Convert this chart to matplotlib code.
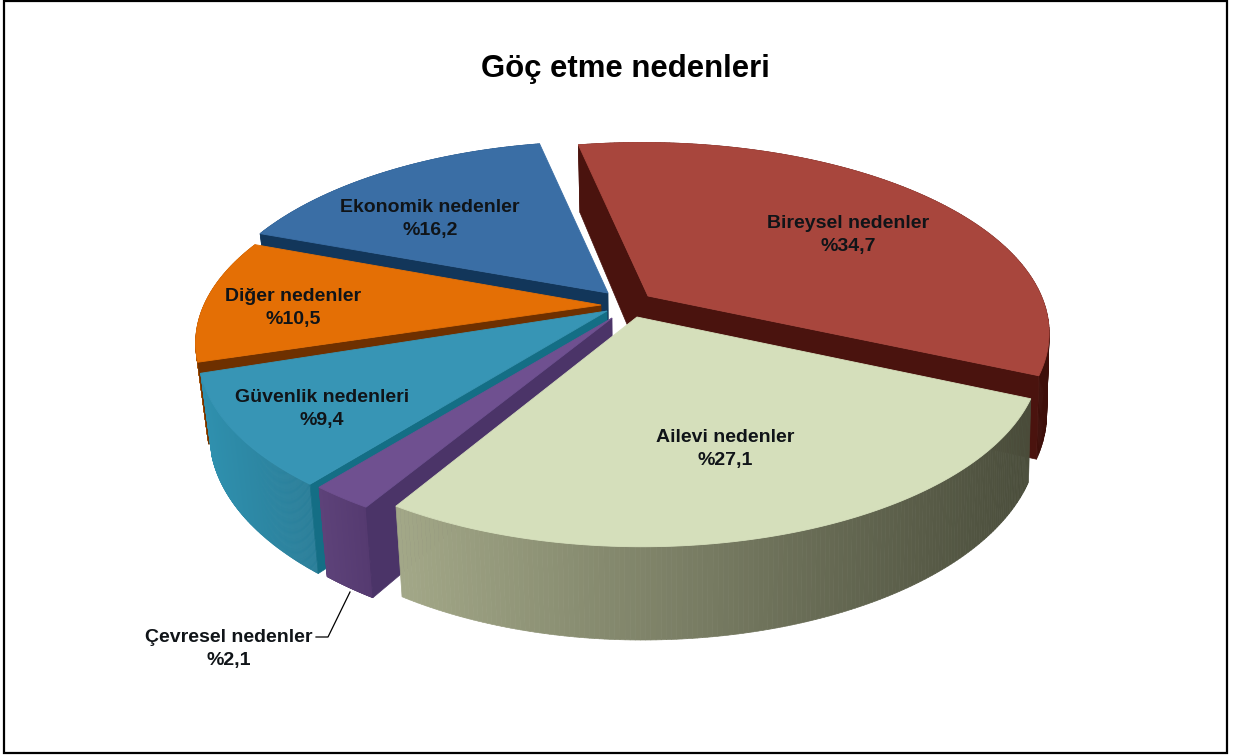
import numpy as np
import matplotlib
matplotlib.use("Agg")
import matplotlib.pyplot as plt
from matplotlib.collections import PolyCollection
from matplotlib.colors import to_rgb

title = "Göç etme nedenleri"
categories = ["Bireysel nedenler", "Ailevi nedenler", "Çevresel nedenler",
              "Güvenlik nedenleri", "Diğer nedenler", "Ekonomik nedenler"]
shares = [34.7, 27.1, 2.1, 9.4, 10.5, 16.2]
value_labels = ["%34,7", "%27,1", "%2,1", "%9,4", "%10,5", "%16,2"]

# styling
top_colors = ["#A8463D", "#D5DFBB", "#6F5090", "#3795B5", "#E46F05", "#3A6EA5"]
cut_colors = ["#4A130E", "#7E8268", "#4B3468", "#146E85", "#6E3000", "#12365A"]
wall_left = ["#5C1C15", "#A3A888", "#5D4279", "#2F90AE", "#A85205", "#1F4A78"]
wall_right = ["#3E0F0A", "#4A4D3B", "#553A70", "#2A7E99", "#A85205", "#1F4A78"]
tips = [(648, 296), (637, 317), (612, 318), (607, 311), (601, 305), (608, 293)]
arc_centers = [(642, 295), (642, 318), (621, 319), (612, 316), (609, 305), (602, 294)]
arc_scales = [0.985, 0.965, 1.0, 1.0, 1.0, 0.966]
label_xy = [(848, 235), (725, 449), (229, 649), (322, 409), (293, 308), (430, 219)]
draw_order = [0, 5, 4, 3, 2, 1]

START = -11.0
RX, RY, K, H = 405.0, 183.0, 0.2, 78.0

fig = plt.figure(figsize=(12.34, 7.55), dpi=100)
ax = fig.add_axes([0, 0, 1, 1])
ax.set_xlim(0, 1234)
ax.set_ylim(755, 0)
ax.axis("off")
ax.add_patch(plt.Rectangle((4, 0.5), 1223, 752, fc="white", ec="black", lw=1.6))


def project(theta, cx, cy, scale):
    u, v = np.sin(theta), -np.cos(theta)
    s = 1 / (1 - K * v)
    return cx + scale * RX * u * s, cy + RY * v * s, H * s ** 0.8


def lean(x):
    x = np.asarray(x, dtype=float)
    return x + (640 - x) * np.where(x < 640, 0.025, 0.006)


def mix(a, b, t):
    a, b = np.array(to_rgb(a)), np.array(to_rgb(b))
    return tuple(a + (b - a) * t)


edges = START + np.concatenate([[0], np.cumsum(shares)]) * 3.6
for i in draw_order:
    th = np.linspace(np.radians(edges[i]), np.radians(edges[i + 1]), 160)
    tx, ty = tips[i]
    x, y, h = project(th, *arc_centers[i], arc_scales[i])
    xb = lean(x)
    mx, my = (tx + x.sum()) / (len(x) + 1), (ty + y.sum()) / (len(y) + 1)

    def cut(k):
        ax.add_patch(plt.Polygon([(tx, ty), (x[k], y[k]), (xb[k], y[k] + h[k]), (lean(tx), ty + H)],
                                 fc=cut_colors[i], ec=cut_colors[i], lw=0.5, zorder=2))

    def faces_viewer(k):
        # the cut face shows when the wedge's top lies above the line of its edge
        line_y = ty + (y[k] - ty) * (mx - tx) / (x[k] - tx)
        return my < line_y

    # outer wall with a left-to-right gradient
    quads, cols = [], []
    for j in range(len(th) - 1):
        quads.append([(x[j], y[j]), (x[j + 1], y[j + 1]),
                      (xb[j + 1], y[j + 1] + h[j + 1]), (xb[j], y[j] + h[j])])
        t = np.clip((x[j] - x.min()) / max(x.max() - x.min(), 1), 0, 1)
        cols.append(mix(wall_left[i], wall_right[i], t))
    ax.add_collection(PolyCollection(quads, facecolors=cols, edgecolors=cols, linewidths=0.5, zorder=2))
    for k in (0, -1):
        if faces_viewer(k):
            cut(k)
    # top face
    ax.add_patch(plt.Polygon(np.r_[[(tx, ty)], np.c_[x, y]], fc=top_colors[i],
                             ec=top_colors[i], lw=0.6, zorder=2))
    ax.text(*label_xy[i], f"{categories[i]}\n{value_labels[i]}", ha="center", va="center",
            fontsize=14, fontweight="bold", family="Liberation Sans", color="#101418",
            linespacing=1.5, zorder=5)

ax.plot([350, 328, 316], [592, 637, 637], color="black", lw=0.9, zorder=4)
ax.text(625, 69, title, ha="center", va="center", fontsize=22.4, fontweight="bold",
        family="Liberation Sans", color="black", zorder=5)

fig.savefig("out.png", dpi=100)
